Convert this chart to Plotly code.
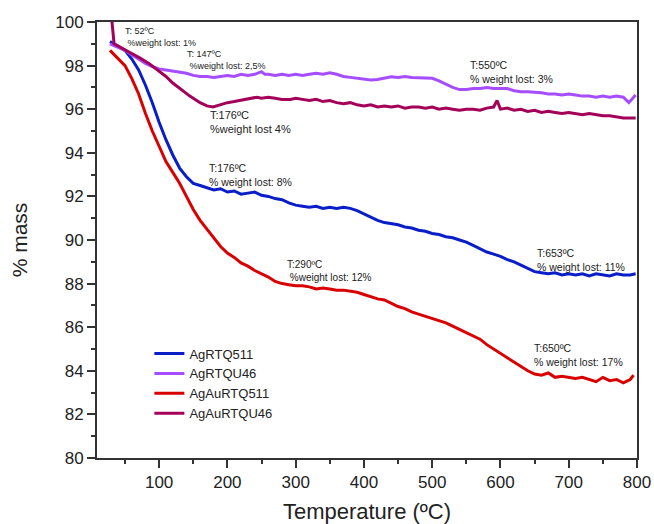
import plotly.graph_objects as go

# Thermogravimetric curves: temperature (ºC) vs. residual mass (%)
t_ag511 = [28, 40, 50, 60, 70, 80, 90, 100, 110, 120, 130, 140, 150, 160, 170, 180, 190, 200,
           210, 220, 230, 240, 250, 260, 270, 280, 290, 300, 310, 320, 330, 340, 350, 360, 370,
           380, 390, 400, 410, 420, 430, 440, 450, 460, 470, 480, 490, 500, 510, 520, 530, 540,
           550, 560, 570, 580, 590, 600, 610, 620, 630, 640, 650, 660, 670, 680, 690, 700, 710,
           720, 730, 740, 750, 760, 770, 780, 790, 798]
m_ag511 = [99.1, 98.9, 98.7, 98.3, 97.8, 97.1, 96.3, 95.4, 94.6, 93.9, 93.3, 92.9, 92.6, 92.5,
           92.4, 92.3, 92.35, 92.2, 92.25, 92.1, 92.15, 92.2, 92.05, 92.0, 91.9, 91.85, 91.7,
           91.6, 91.55, 91.5, 91.55, 91.45, 91.5, 91.45, 91.5, 91.45, 91.35, 91.2, 91.05, 90.9,
           90.8, 90.75, 90.7, 90.6, 90.55, 90.45, 90.4, 90.3, 90.25, 90.15, 90.1, 90.0, 89.9,
           89.75, 89.6, 89.45, 89.35, 89.25, 89.1, 89.0, 88.85, 88.7, 88.55, 88.5, 88.45, 88.5,
           88.4, 88.45, 88.4, 88.45, 88.35, 88.45, 88.4, 88.35, 88.45, 88.4, 88.4, 88.45]

t_agu46 = [28, 40, 50, 60, 70, 80, 90, 100, 110, 120, 130, 140, 150, 160, 170, 180, 190, 200,
           210, 220, 230, 240, 250, 255, 260, 270, 280, 290, 300, 310, 320, 330, 340, 350, 360,
           370, 380, 390, 400, 410, 420, 430, 440, 450, 460, 470, 480, 490, 500, 510, 520, 530,
           540, 550, 560, 570, 580, 590, 600, 610, 620, 630, 640, 650, 660, 670, 680, 690, 700,
           710, 720, 730, 740, 750, 760, 770, 780, 788, 793, 798]
m_agu46 = [99.0, 98.85, 98.7, 98.5, 98.3, 98.1, 97.95, 97.85, 97.8, 97.75, 97.7, 97.65, 97.55,
           97.5, 97.5, 97.45, 97.5, 97.55, 97.5, 97.6, 97.55, 97.6, 97.72, 97.6, 97.6, 97.55,
           97.6, 97.55, 97.6, 97.55, 97.6, 97.65, 97.6, 97.67, 97.6, 97.5, 97.46, 97.42, 97.36,
           97.34, 97.36, 97.42, 97.49, 97.46, 97.5, 97.45, 97.45, 97.42, 97.42, 97.3, 97.15,
           97.0, 96.9, 96.9, 96.95, 96.95, 97.0, 96.95, 96.95, 96.95, 96.85, 96.8, 96.8, 96.78,
           96.75, 96.7, 96.7, 96.65, 96.7, 96.65, 96.6, 96.6, 96.55, 96.6, 96.55, 96.6, 96.55,
           96.3, 96.5, 96.65]

t_agau511 = [28, 40, 50, 60, 70, 80, 90, 100, 110, 120, 130, 140, 150, 160, 170, 180, 190, 200,
             210, 220, 230, 240, 250, 260, 270, 280, 290, 300, 310, 320, 330, 340, 350, 360, 370,
             380, 390, 400, 410, 420, 430, 440, 450, 460, 470, 480, 490, 500, 510, 520, 530, 540,
             550, 560, 570, 580, 590, 600, 610, 620, 630, 640, 650, 660, 670, 680, 690, 700, 710,
             720, 730, 740, 750, 760, 770, 780, 790, 795]
m_agau511 = [98.7, 98.3, 98.0, 97.4, 96.7, 95.8, 95.0, 94.3, 93.6, 93.1, 92.6, 92.0, 91.4, 90.9,
             90.5, 90.1, 89.7, 89.4, 89.2, 88.95, 88.8, 88.6, 88.45, 88.3, 88.1, 88.0, 87.95,
             87.9, 87.9, 87.85, 87.75, 87.8, 87.75, 87.7, 87.7, 87.65, 87.6, 87.5, 87.4, 87.3,
             87.25, 87.1, 86.95, 86.85, 86.7, 86.6, 86.5, 86.4, 86.3, 86.2, 86.05, 85.9, 85.75,
             85.6, 85.45, 85.2, 85.0, 84.8, 84.6, 84.4, 84.2, 84.0, 83.85, 83.8, 83.9, 83.7,
             83.75, 83.7, 83.65, 83.7, 83.6, 83.5, 83.7, 83.55, 83.6, 83.45, 83.6, 83.8]

t_agau46 = [26, 31, 34, 40, 47, 60, 72, 85, 97, 110, 120, 133, 145, 160, 170, 179, 190, 200,
            210, 219, 230, 243, 250, 260, 270, 280, 292, 300, 310, 320, 330, 340, 350, 360, 370,
            380, 390, 400, 410, 420, 430, 440, 450, 460, 470, 480, 490, 500, 510, 520, 530, 540,
            550, 560, 570, 580, 590, 595, 600, 610, 620, 630, 640, 650, 660, 670, 680, 690, 700,
            710, 720, 730, 740, 750, 760, 770, 780, 790, 798]
m_agau46 = [101.0, 100.0, 99.0, 98.9, 98.75, 98.55, 98.35, 98.1, 97.8, 97.5, 97.2, 96.9, 96.6,
            96.3, 96.15, 96.1, 96.2, 96.3, 96.35, 96.4, 96.45, 96.55, 96.5, 96.55, 96.5, 96.45,
            96.45, 96.5, 96.45, 96.4, 96.45, 96.35, 96.4, 96.3, 96.25, 96.3, 96.2, 96.15, 96.2,
            96.1, 96.15, 96.1, 96.15, 96.05, 96.1, 96.1, 96.05, 96.1, 96.0, 96.05, 96.0, 95.95,
            96.0, 96.0, 95.95, 96.05, 96.1, 96.4, 96.0, 96.05, 95.95, 96.0, 95.9, 95.95, 95.85,
            95.9, 95.85, 95.8, 95.85, 95.8, 95.75, 95.8, 95.75, 95.7, 95.7, 95.65, 95.6, 95.6,
            95.6]

series_names = ["AgRTQ511", "AgRTQU46", "AgAuRTQ511", "AgAuRTQU46"]
series_t = [t_ag511, t_agu46, t_agau511, t_agau46]
series_m = [m_ag511, m_agu46, m_agau511, m_agau46]
series_colors = ["#0a1ec8", "#a64dff", "#d90000", "#a3005a"]

# Weight-loss labels: (temperature, mass, text, font size)
notes = [
    (47, 99.29, "T: 52ºC<br> %weight lost: 1%", 9),
    (138, 98.28, "T: 147ºC<br> %weight lost: 2,5%", 9),
    (171, 95.41, "T:176ºC<br>%weight lost 4%", 11),
    (552, 97.71, "T:550ºC<br>% weight lost: 3%", 10.5),
    (170, 92.98, "T:176ºC<br>% weight lost: 8%", 10.5),
    (284, 88.60, "T:290ºC<br> %weight lost: 12%", 10),
    (650, 89.06, "T:653ºC<br>% weight lost: 11%", 10.5),
    (646, 84.72, "T:650ºC<br>% weight lost: 17%", 10.5),
]

FONT = "Liberation Sans, Arial, sans-serif"

fig = go.Figure()
for name, t, m, c in zip(series_names, series_t, series_m, series_colors):
    fig.add_trace(go.Scatter(x=t, y=m, mode="lines", name=name,
                             line=dict(color=c, width=3)))

for x, y, text, size in notes:
    fig.add_annotation(x=x, y=y, text=text, showarrow=False, xanchor="left",
                       yanchor="middle", align="left",
                       font=dict(family=FONT, size=size, color="#222"))

axis_common = dict(
    showgrid=False, zeroline=False, showline=True, linecolor="#333", linewidth=2,
    mirror=True, ticks="outside", ticklen=8, tickwidth=1.5, tickcolor="#333",
    tickfont=dict(family=FONT, size=17, color="#222"),
)

fig.update_xaxes(range=[9, 800], tick0=0, dtick=100,
                 minor=dict(ticks="outside", ticklen=4, dtick=50, tickwidth=1.5,
                            tickcolor="#333"),
                 title=dict(text="Temperature (ºC)", standoff=12,
                            font=dict(family=FONT, size=22, color="#222")),
                 **axis_common)
fig.update_yaxes(range=[80, 100], tick0=80, dtick=2,
                 minor=dict(ticks="outside", ticklen=4, dtick=1, tickwidth=1.5,
                            tickcolor="#333"),
                 title=dict(text="% mass", standoff=22,
                            font=dict(family=FONT, size=21, color="#222")),
                 **axis_common)

fig.update_layout(
    width=654, height=524,
    margin=dict(l=97, r=17, t=22, b=66, autoexpand=False),
    paper_bgcolor="white", plot_bgcolor="white",
    font=dict(family=FONT, color="#222"),
    legend=dict(x=0.097, y=0.274, xanchor="left", yanchor="top",
                bgcolor="rgba(0,0,0,0)", font=dict(family=FONT, size=13),
                tracegroupgap=0),
    showlegend=True,
)

fig.write_html("out.html")
